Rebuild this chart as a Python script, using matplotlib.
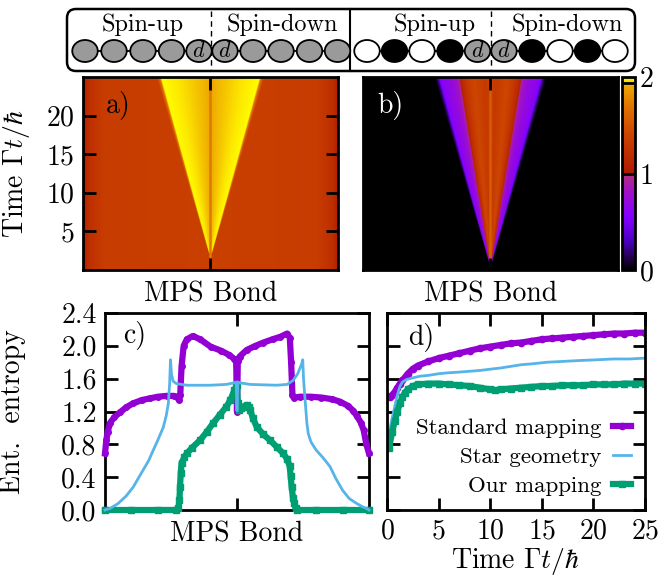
import numpy as np
import matplotlib
matplotlib.use('Agg')
import matplotlib.pyplot as plt
from matplotlib.colors import LinearSegmentedColormap
from matplotlib.patches import FancyBboxPatch, Ellipse

plt.rcParams['font.family'] = 'serif'
plt.rcParams['font.serif'] = ['cmr10']
plt.rcParams['mathtext.fontset'] = 'cm'
plt.rcParams['axes.formatter.use_mathtext'] = True

# ---- chain sketch -------------------------------------------------------
sites_std_x = [85, 114, 143, 171.5, 199, 225, 253, 281, 309.5, 337.5]
sites_std_fill = ['#9a9a9a'] * 10
sites_our_x = [367, 394.5, 422, 450, 477.5, 504, 532, 560, 587.5, 615]
sites_our_fill = ['white', 'black', 'white', 'black', '#9a9a9a',
                  '#9a9a9a', 'black', 'white', 'black', 'white']
dot_index = [4, 5]

# ---- panel c: entanglement entropy along the chain at final time -------
bond_std = [0.0, 0.005, 0.01, 0.019, 0.035, 0.057, 0.08, 0.107, 0.14, 0.17,
            0.20, 0.233, 0.26, 0.272, 0.28, 0.285, 0.29, 0.298, 0.31, 0.333,
            0.36, 0.40, 0.44, 0.47, 0.49, 0.497, 0.5, 0.503, 0.51, 0.537,
            0.57, 0.60, 0.635, 0.664, 0.69, 0.70, 0.705, 0.71, 0.715, 0.74,
            0.78, 0.82, 0.86, 0.89, 0.92, 0.94, 0.955, 0.97, 0.98, 0.99, 1.0]
ent_std = [0.69, 0.85, 0.95, 1.06, 1.13, 1.19, 1.25, 1.30, 1.34, 1.36,
           1.38, 1.39, 1.39, 1.38, 1.34, 1.40, 1.75, 2.00, 2.08, 2.12,
           2.08, 1.99, 1.94, 1.89, 1.84, 1.80, 1.20, 1.82, 1.87, 1.95,
           2.00, 2.04, 2.08, 2.11, 2.15, 2.10, 1.80, 1.40, 1.37, 1.38,
           1.38, 1.37, 1.35, 1.32, 1.27, 1.21, 1.14, 1.06, 0.97, 0.80, 0.69]

bond_star = [0.0, 0.02, 0.05, 0.08, 0.107, 0.125, 0.145, 0.165, 0.183, 0.20,
             0.221, 0.232, 0.24, 0.245, 0.248, 0.252, 0.258, 0.27, 0.31, 0.40,
             0.46, 0.49, 0.497, 0.5, 0.503, 0.51, 0.55, 0.65, 0.69, 0.713,
             0.73, 0.745, 0.749, 0.752, 0.757, 0.765, 0.77, 0.78, 0.80, 0.825,
             0.852, 0.875, 0.90, 0.925, 0.953, 0.975, 0.99, 1.0]
ent_star = [0.0, 0.02, 0.08, 0.17, 0.28, 0.38, 0.49, 0.60, 0.73, 0.85,
            1.01, 1.15, 1.30, 1.55, 1.83, 1.65, 1.57, 1.54, 1.52, 1.52,
            1.53, 1.55, 1.56, 1.21, 1.56, 1.55, 1.53, 1.52, 1.53, 1.58,
            1.66, 1.78, 1.83, 1.60, 1.38, 1.05, 0.93, 0.83, 0.73, 0.64,
            0.53, 0.38, 0.24, 0.14, 0.08, 0.04, 0.02, 0.0]

bond_our = [0.0, 0.1, 0.2, 0.27, 0.278, 0.282, 0.284, 0.287, 0.29, 0.30,
            0.31, 0.33, 0.36, 0.385, 0.41, 0.435, 0.46, 0.475, 0.49, 0.497,
            0.5, 0.503, 0.507, 0.515, 0.524, 0.537, 0.545, 0.55, 0.56, 0.575,
            0.60, 0.625, 0.65, 0.675, 0.69, 0.70, 0.703, 0.707, 0.712, 0.717,
            0.722, 0.726, 0.8, 0.9, 1.0]
ent_our = [0.0, 0.0, 0.0, 0.0, 0.02, 0.12, 0.28, 0.45, 0.57, 0.64,
           0.69, 0.76, 0.85, 0.95, 1.06, 1.16, 1.26, 1.34, 1.46, 1.50,
           1.52, 1.30, 1.22, 1.24, 1.26, 1.28, 1.26, 1.22, 1.12, 1.01,
           0.92, 0.85, 0.77, 0.69, 0.62, 0.53, 0.42, 0.28, 0.15, 0.08,
           0.02, 0.0, 0.0, 0.0, 0.0]

# ---- panel d: entropy of the central bond versus time ------------------
time_std = [0, 0.25, 0.5, 0.75, 1.0, 1.25, 1.5, 2, 2.5, 3, 4, 5, 6, 7, 8, 9,
            10, 11, 12, 13, 14, 15, 16, 17, 18, 19, 20, 21, 22, 23, 24, 25]
mid_std = [1.38, 1.38, 1.40, 1.44, 1.49, 1.54, 1.58, 1.66, 1.72, 1.76, 1.81,
           1.85, 1.88, 1.91, 1.94, 1.97, 1.99, 2.01, 2.03, 2.04, 2.06, 2.08,
           2.09, 2.10, 2.11, 2.12, 2.13, 2.14, 2.15, 2.15, 2.16, 2.16]

time_star = [0.2, 0.3, 0.5, 0.77, 1.0, 1.26, 1.5, 1.9, 2.5, 3.2, 4, 5, 5.8,
             7, 8, 9, 10.3, 11, 12, 13, 14, 15.5, 17, 18.5, 20.3, 22, 23.5, 25]
mid_star = [0.93, 1.00, 1.12, 1.27, 1.40, 1.51, 1.56, 1.59, 1.61, 1.63, 1.64,
            1.66, 1.67, 1.68, 1.69, 1.70, 1.72, 1.73, 1.75, 1.77, 1.78, 1.80,
            1.81, 1.82, 1.83, 1.84, 1.84, 1.85]

time_our = [0.2, 0.5, 0.75, 1.0, 1.25, 1.5, 1.75, 2.0, 2.5, 3, 4, 5, 6, 7, 8,
            9, 10, 10.5, 11, 12, 13, 14, 15, 16, 17, 18, 19, 20, 21, 22, 23,
            24, 25]
mid_our = [0.76, 0.95, 1.08, 1.20, 1.30, 1.38, 1.43, 1.47, 1.51, 1.53, 1.54,
           1.54, 1.53, 1.52, 1.51, 1.49, 1.47, 1.46, 1.47, 1.48, 1.49, 1.50,
           1.51, 1.51, 1.52, 1.52, 1.52, 1.53, 1.53, 1.53, 1.54, 1.54, 1.54]

# ---- panels a/b: light cone of the entanglement entropy ----------------
# front half-width (fraction of chain) versus time, profile inside the cone
# as a function of s = distance from centre / half-width
front_std_t = [1.5, 25.0]
front_std_w = [0.0, 0.20]
cone_std_s = [0.0, 0.15, 0.5, 0.85, 1.0]
cone_std_val = [1.90, 1.92, 1.955, 1.985, 2.0]
bg_std_x = [0.0, 0.02, 0.08, 0.5, 0.92, 0.98, 1.0]
bg_std_val = [1.05, 1.2, 1.33, 1.36, 1.33, 1.2, 1.05]
centre_std = 1.72

front_our_t = [0.3, 25.0]
front_our_w = [0.0, 0.207]
cone_our_s = [0.0, 0.03, 0.1, 0.25, 0.32, 0.45, 0.56, 0.62, 0.75, 0.9, 1.0]
cone_our_val = [1.55, 1.35, 1.3, 1.38, 1.42, 1.3, 1.15, 0.85, 0.7, 0.62, 0.5]
bg_our_x = [0.0, 1.0]
bg_our_val = [0.0, 0.0]
centre_our = 1.55

edge_s = [0.0, 0.97, 1.0, 1.06]
edge_w = [1.0, 1.0, 0.5, 0.0]

bond_grid = np.linspace(0, 1, 511)
time_grid = np.linspace(0, 25, 301)


def light_cone(front_t, front_w, prof_s, prof_val, bg_x, bg_val, centre):
    X, T = np.meshgrid(bond_grid, time_grid)
    hw = np.interp(T, front_t, front_w)
    d = np.abs(X - 0.5)
    s = d / np.maximum(hw, 1e-6)
    inside = np.interp(s, prof_s, prof_val)
    w = np.interp(s, edge_s, edge_w)
    bg = np.interp(X, bg_x, bg_val)
    field = bg + w * (inside - bg)
    field[(d < 0.004) & (hw > 0)] = centre
    return field


field_std = light_cone(front_std_t, front_std_w, cone_std_s, cone_std_val,
                       bg_std_x, bg_std_val, centre_std)
field_our = light_cone(front_our_t, front_our_w, cone_our_s, cone_our_val,
                       bg_our_x, bg_our_val, centre_our)

cmap_nodes = [0.0, 0.1, 0.3, 0.55, 0.8, 0.999, 1.0, 1.4, 1.7, 1.9, 1.94,
              1.97, 2.0]
cmap_colors = ['#000000', '#1c0038', '#4a00c0', '#8400ff', '#a010c8',
               '#b03080', '#b01800', '#cc4400', '#e07400', '#eca400',
               '#f6c800', '#fde800', '#ffff00']
cmap = LinearSegmentedColormap.from_list(
    'entropy', list(zip(np.array(cmap_nodes) / 2.0, cmap_colors)), N=1024)

purple = '#9400d3'
blue = '#56b4e9'
green = '#009e73'
FS = 20

fig = plt.figure(figsize=(6.68, 5.76), dpi=100)


def style(ax):
    for sp in ax.spines.values():
        sp.set_linewidth(2)
    ax.tick_params(direction='in', length=9, width=2, labelsize=FS,
                   top=True, right=True, pad=6)


# chain sketch across the top
sch = fig.add_axes([0, 0, 1, 1])
sch.set_xlim(0, 668)
sch.set_ylim(576, 0)
sch.axis('off')
sch.add_patch(FancyBboxPatch((67, 9), 568, 62,
                             boxstyle='round,pad=0,rounding_size=9',
                             fc='none', ec='black', lw=1.8))
sch.plot([350, 350], [9, 71], color='black', lw=1.5)
for xs, fills, split in [(sites_std_x, sites_std_fill, 211),
                         (sites_our_x, sites_our_fill, 491)]:
    sch.plot([split, split], [11, 70], color='black', lw=1, dashes=(4, 3))
    sch.plot(xs, [51] * len(xs), color='black', lw=1.3, zorder=1)
    for i, (x, c) in enumerate(zip(xs, fills)):
        sch.add_patch(Ellipse((x, 51), 25.5, 22, fc=c, ec='black', lw=1.3,
                              zorder=2))
        if i in dot_index:
            sch.text(x, 51, r'$d$', fontsize=16, ha='center', va='center',
                     zorder=3)
for x, lab in [(143, 'Spin-up'), (282, 'Spin-down'),
               (435, 'Spin-up'), (567, 'Spin-down')]:
    sch.text(x, 31, lab, fontsize=17.5, ha='center', va='baseline')

# a) standard mapping
ax_a = fig.add_axes([83 / 668, 1 - 270 / 576, 255 / 668, 193 / 576])
ax_a.imshow(field_std, cmap=cmap, vmin=0, vmax=2, origin='lower',
            extent=[0, 1, 0, 25], aspect='auto', interpolation='bilinear')
style(ax_a)
ax_a.set_xticks([0.5])
ax_a.set_xticklabels([])
ax_a.set_yticks([5, 10, 15, 20])
ax_a.set_xlabel('MPS Bond', fontsize=FS, labelpad=2)
ax_a.set_ylabel(r'Time $\Gamma t/\hbar$', fontsize=FS)
ax_a.yaxis.set_label_coords(-0.2, 0.5)
ax_a.text(0.09, 0.93, 'a)', transform=ax_a.transAxes, fontsize=FS,
          va='top')

# b) our mapping
ax_b = fig.add_axes([363 / 668, 1 - 270 / 576, 255 / 668, 193 / 576])
im = ax_b.imshow(field_our, cmap=cmap, vmin=0, vmax=2, origin='lower',
                 extent=[0, 1, 0, 25], aspect='auto', interpolation='bilinear')
style(ax_b)
ax_b.set_xticks([0.5])
ax_b.set_xticklabels([])
ax_b.set_yticks([5, 10, 15, 20])
ax_b.set_yticklabels([])
ax_b.set_xlabel('MPS Bond', fontsize=FS, labelpad=2)
ax_b.text(0.055, 0.93, 'b)', transform=ax_b.transAxes, fontsize=FS,
          va='top', color='white')

cax = fig.add_axes([622 / 668, 1 - 270 / 576, 13 / 668, 193 / 576])
cb = fig.colorbar(im, cax=cax, ticks=[0, 1, 2])
cb.outline.set_linewidth(2)
cax.tick_params(length=0, labelsize=FS, pad=3)
for lev in [1.0, 1.94]:
    cax.axhline(lev, color='black', lw=2)

# c) entropy profile along the chain
ax_c = fig.add_axes([105 / 668, 1 - 510 / 576, 264 / 668, 197 / 576])
ax_c.plot(bond_std, ent_std, color=purple, lw=4.5, marker='o', ms=4,
          clip_on=False, zorder=3)
ax_c.plot(bond_star, ent_star, color=blue, lw=2, clip_on=False, zorder=4)
ax_c.plot(bond_our, ent_our, color=green, lw=4.5, marker='s', ms=4,
          clip_on=False, zorder=3)
style(ax_c)
ax_c.set_xlim(0, 1)
ax_c.set_ylim(0, 2.4)
ax_c.set_xticks([0.5])
ax_c.set_xticklabels([])
ax_c.set_yticks(np.arange(0, 2.41, 0.4))
ax_c.yaxis.set_major_formatter(plt.FormatStrFormatter('%.1f'))
ax_c.set_xlabel('MPS Bond', fontsize=FS, labelpad=2)
ax_c.set_ylabel('Ent.  entropy', fontsize=FS)
ax_c.yaxis.set_label_coords(-0.3, 0.5)
ax_c.text(0.07, 0.96, 'c)', transform=ax_c.transAxes, fontsize=FS,
          va='top')

# d) central bond entropy versus time
ax_d = fig.add_axes([387 / 668, 1 - 510 / 576, 258 / 668, 197 / 576])
ax_d.plot(time_std, mid_std, color=purple, lw=4.5, marker='o', ms=4.5,
          label='Standard mapping')
ax_d.plot(time_star, mid_star, color=blue, lw=2, label='Star geometry')
ax_d.plot(time_our, mid_our, color=green, lw=4.5, marker='s', ms=4.5,
          label='Our mapping')
style(ax_d)
ax_d.set_xlim(0, 25)
ax_d.set_ylim(0, 2.4)
ax_d.set_xticks([0, 5, 10, 15, 20, 25])
ax_d.set_yticks(np.arange(0, 2.41, 0.4))
ax_d.set_yticklabels([])
ax_d.set_xlabel(r'Time $\Gamma t/\hbar$', fontsize=FS, labelpad=1)
ax_d.text(0.08, 0.95, 'd)', transform=ax_d.transAxes, fontsize=FS,
          va='top')
leg = ax_d.legend(loc='lower right', bbox_to_anchor=(1.0, 0.0),
                  frameon=False, markerfirst=False, fontsize=16.5,
                  handlelength=0.8, labelspacing=0.4, borderaxespad=0.2,
                  handletextpad=0.5)

fig.savefig('out.png', dpi=100)
